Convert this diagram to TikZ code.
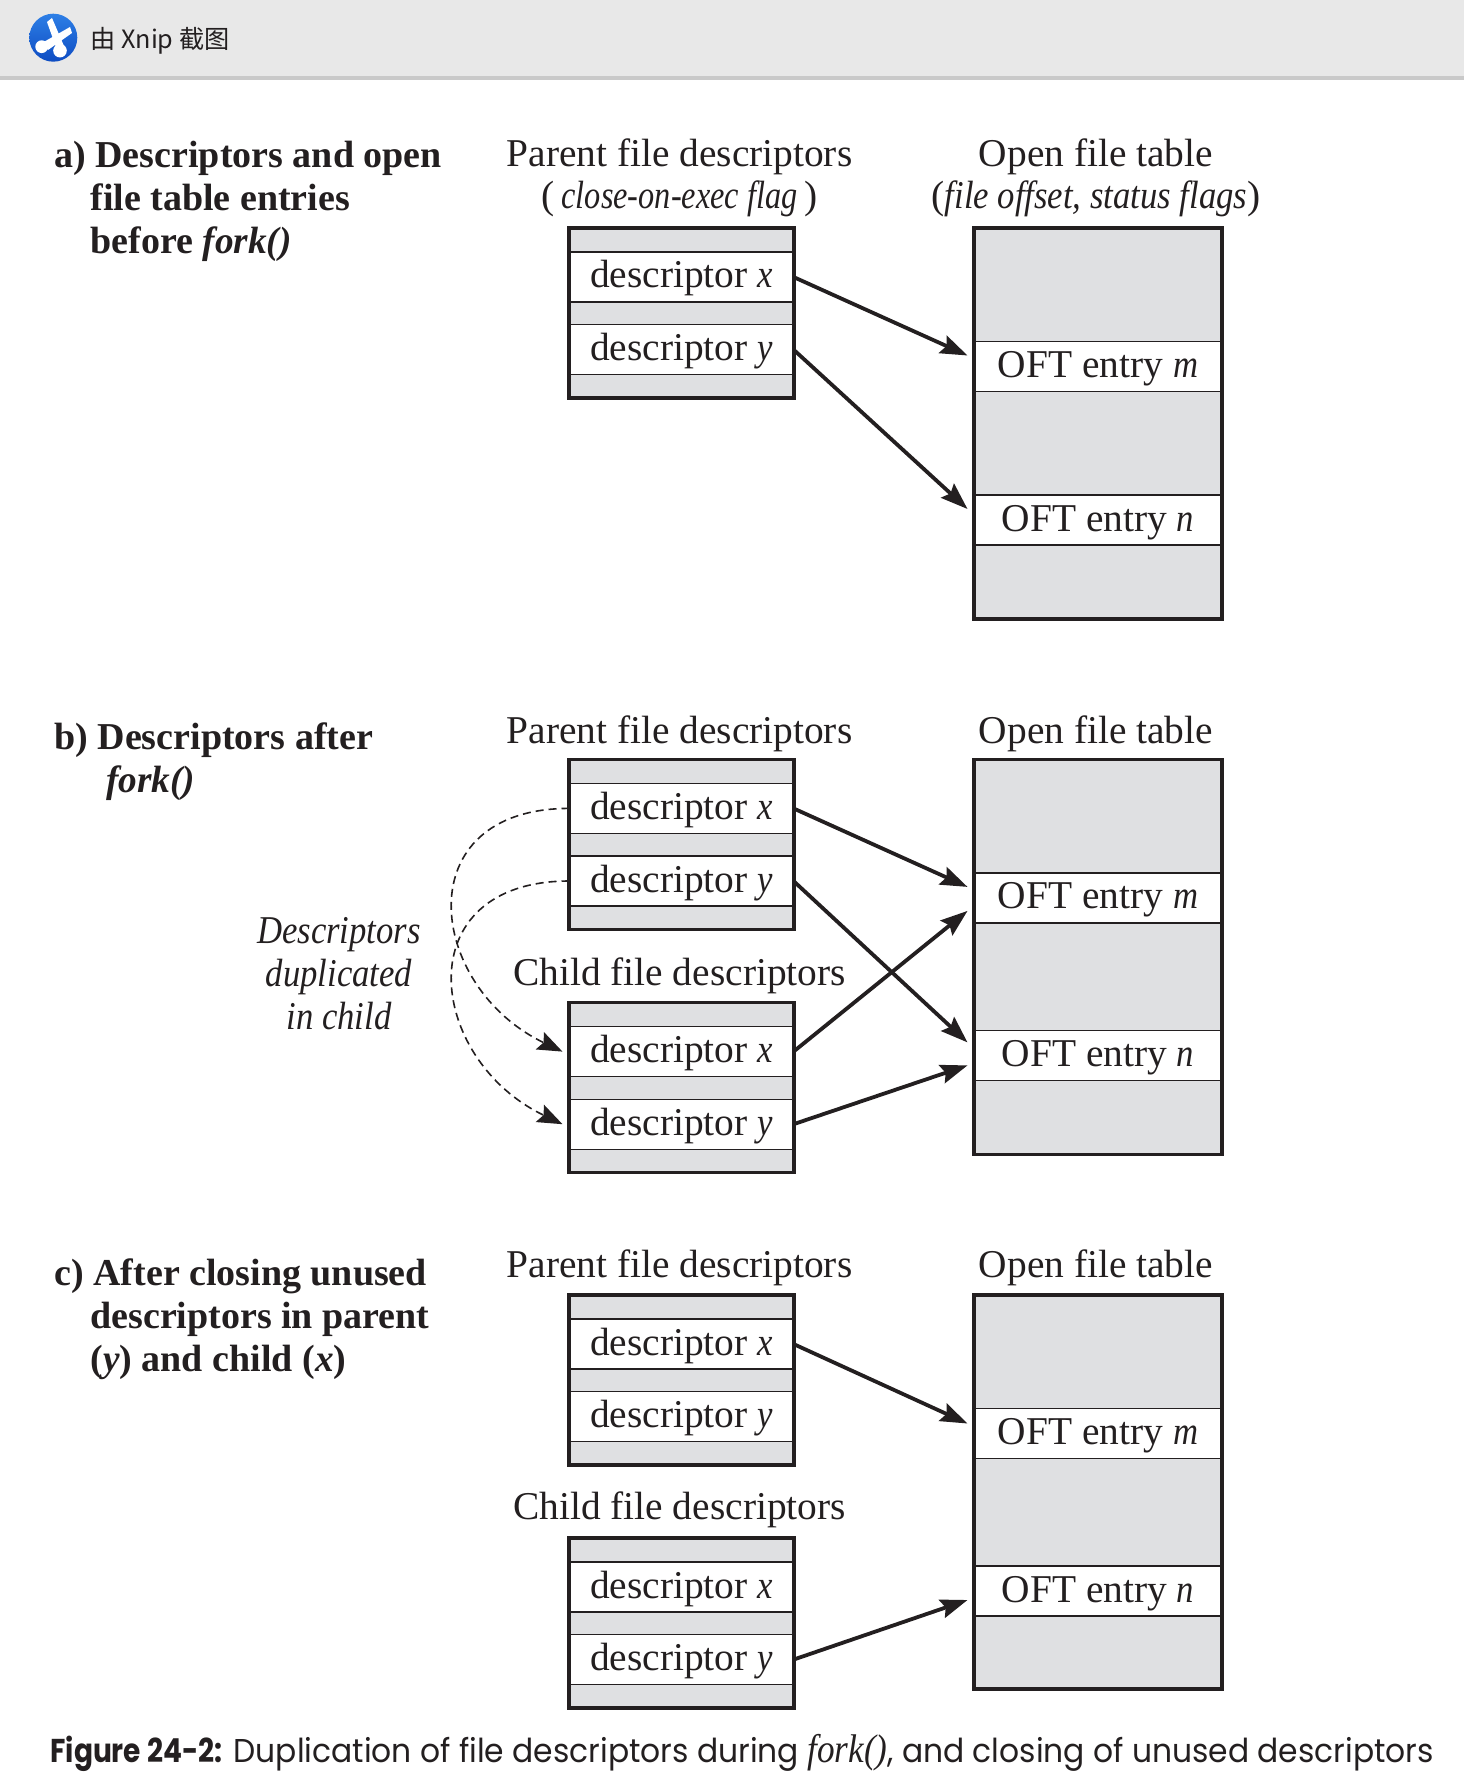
\documentclass[tikz,border=0pt]{standalone}
\usepackage{fontspec}
\setmainfont{Liberation Serif}[ItalicFeatures={FakeStretch=0.88},BoldItalicFeatures={FakeStretch=0.98}]
\newfontfamily\cjkfont{Noto Sans CJK SC}
\newfontfamily\capfont{Poppins}[FakeStretch=0.95]
\newfontfamily\capbold{Poppins Bold}[FakeStretch=0.85]
\newfontfamily\narrowit{Liberation Serif Italic}[FakeStretch=0.82]
\usetikzlibrary{arrows.meta, positioning}
\definecolor{ink}{HTML}{231F20}
\definecolor{cellgray}{HTML}{DFE0E2}
\definecolor{headgray}{HTML}{E8E8E8}
\definecolor{headbar}{HTML}{C9C9C9}
\definecolor{icontop}{HTML}{2D7FE6}
\definecolor{iconbottom}{HTML}{0E4CC2}
\newlength{\descwidth}
\setlength{\descwidth}{112.5pt}
\newlength{\oftwidth}
\setlength{\oftwidth}{124pt}
\newcommand{\parenttext}{Parent file descriptors}
\newcommand{\childtext}{Child file descriptors}
\newcommand{\opentext}{Open file table}
%block of two descriptors: name, top
\newcommand{\descblock}[2]{
  \draw (681.5,#2+85) node[descframe] (#1) {};
  \draw (681.5,#2+49) node[descrow] (#1x) {descriptor \textit{x}};
  \draw (681.5,#2+121.6) node[descrow] (#1y) {descriptor \textit{y}};
}
%open file table: name, top, middle of row n, height
\newcommand{\oftblock}[4]{
  \draw (1098,#2+#4/2) node[oftframe, minimum height=#4*0.5pt] (#1) {};
  \draw (1098,#2+138.5) node[oftrow] (#1m) {OFT entry \textit{m}};
  \draw (1098,#2+#3) node[oftrow] (#1n) {OFT entry \textit{n}};
}
\begin{document}
\begin{tikzpicture}[x=0.5pt, y=-0.5pt,
    every node/.style={text=ink, font=\fontsize{19.7}{21.5}\selectfont},
    descframe/.style={rectangle, draw=ink, line width=1.8pt, fill=cellgray, minimum width=\descwidth, minimum height=85pt},
    oftframe/.style={rectangle, draw=ink, line width=1.8pt, fill=cellgray, minimum width=\oftwidth},
    descrow/.style={rectangle, draw=ink, line width=0.7pt, fill=white, inner ysep=0pt, minimum width=\descwidth-1.2pt, text height=18pt, text depth=7pt},
    oftrow/.style={descrow, minimum width=\oftwidth-1.2pt},
    heading/.style={inner sep=0pt, anchor=base west, align=left, font=\fontsize{19}{21.5}\selectfont\bfseries},
    column/.style={inner sep=0pt, anchor=base},
    link/.style={-{Stealth[length=13.5pt, width=9.5pt, inset=2pt]}, draw=ink, line width=1.9pt},
    dup/.style={-{Stealth[length=12.5pt, width=9.5pt, inset=2pt]}, draw=ink, line width=0.8pt, dash pattern=on 4pt off 2.5pt}]
  \useasboundingbox (0,0) rectangle (1464,1791);

  %window bar
  \fill[headgray] (0,0) rectangle (1464,76);
  \fill[headbar] (0,76) rectangle (1464,80);
  \shade[top color=icontop, bottom color=iconbottom] (53.3,37.7) circle (12pt);
  \fill[white] (47,22) -- (52,18) -- (64,46) -- (57,50) -- cycle;
  \fill[white] (70,27) -- (72,33) -- (48,50) -- (42,43) -- cycle;
  \fill[white] (41.7,46.7) circle (3.2pt) (60,50.7) circle (3.4pt);
  \draw (90,41) node[anchor=west, inner sep=0pt, font=\fontsize{12.6}{14}\cjkfont, text=ink] (bar) {由 Xnip 截图};

  %panel a
  \draw (54,254) node[heading] (heada) {a) Descriptors and open\\\hspace*{18pt}file table entries\\\hspace*{18pt}before \textit{fork()}};
  \draw (679.5,167) node[column] (labpa) {\parenttext};
  \draw (679.5,209) node[column] (flagsa) {(\,{\narrowit close-on-exec flag}\,)};
  \draw (1096,167) node[column] (labta) {\opentext};
  \draw (1096,209) node[column] (offa) {(\textit{file offset, status flags})};
  \descblock{pa}{228}
  \oftblock{ta}{228}{292}{391}

  %panel b
  \draw (54,792) node[heading] (headb) {b) Descriptors after\\\hspace*{26pt}\textit{fork()}};
  \draw (339,1029) node[column, align=center, font=\fontsize{19.7}{21.5}\selectfont\itshape] (dupl) {Descriptors\\duplicated\\in child};
  \draw (679.5,743) node[column] (labpb) {\parenttext};
  \draw (679.5,985) node[column] (labcb) {\childtext};
  \draw (1096,743) node[column] (labtb) {\opentext};
  \descblock{pb}{759.4}
  \descblock{cb}{1002.6}
  \oftblock{tb}{759.4}{296}{395}

  %panel c
  \draw (54,1371) node[heading] (headc) {c) After closing unused\\\hspace*{18pt}descriptors in parent\\\hspace*{18pt}(\textit{y}) and child (\textit{x})};
  \draw (679.5,1277) node[column] (labpc) {\parenttext};
  \draw (679.5,1519) node[column] (labcc) {\childtext};
  \draw (1096,1277) node[column] (labtc) {\opentext};
  \descblock{pc}{1295}
  \descblock{cc}{1538}
  \oftblock{tc}{1295}{296}{394}

  %arrows to the table rows
  \path (pax.east) edge[link] ([shift={(-7,-11)}]tam.west);
  \path (pay.east) edge[link] ([shift={(-7,-11)}]tan.west);
  \path (pbx.east) edge[link] ([shift={(-7,-11)}]tbm.west);
  \path (pby.east) edge[link] ([shift={(-7,-13)}]tbn.west);
  \path (cbx.east) edge[link] ([shift={(-7,13)}]tbm.west);
  \path (cby.east) edge[link] ([shift={(-7,10)}]tbn.west);
  \path (pcx.east) edge[link] ([shift={(-7,-10)}]tcm.west);
  \path (ccy.east) edge[link] ([shift={(-7,9)}]tcn.west);

  %dashed arrows from parent to child
  \draw[dup] (pbx.west) .. controls +(-164,0) and +(-136,-65) .. ([xshift=-3.5pt]cbx.west);
  \draw[dup] (pby.west) .. controls +(-164,0) and +(-136,-65) .. ([xshift=-3.5pt]cby.west);

  %caption
  \draw (50,1762) node[inner sep=0pt, anchor=base west, font=\fontsize{16.5}{20}\capfont, text=ink] (caption) {{\capbold Figure 24-2:} Duplication of file descriptors during {\fontsize{20}{20}\rmfamily\itshape fork()}, and closing of unused descriptors};
\end{tikzpicture}
\end{document}
